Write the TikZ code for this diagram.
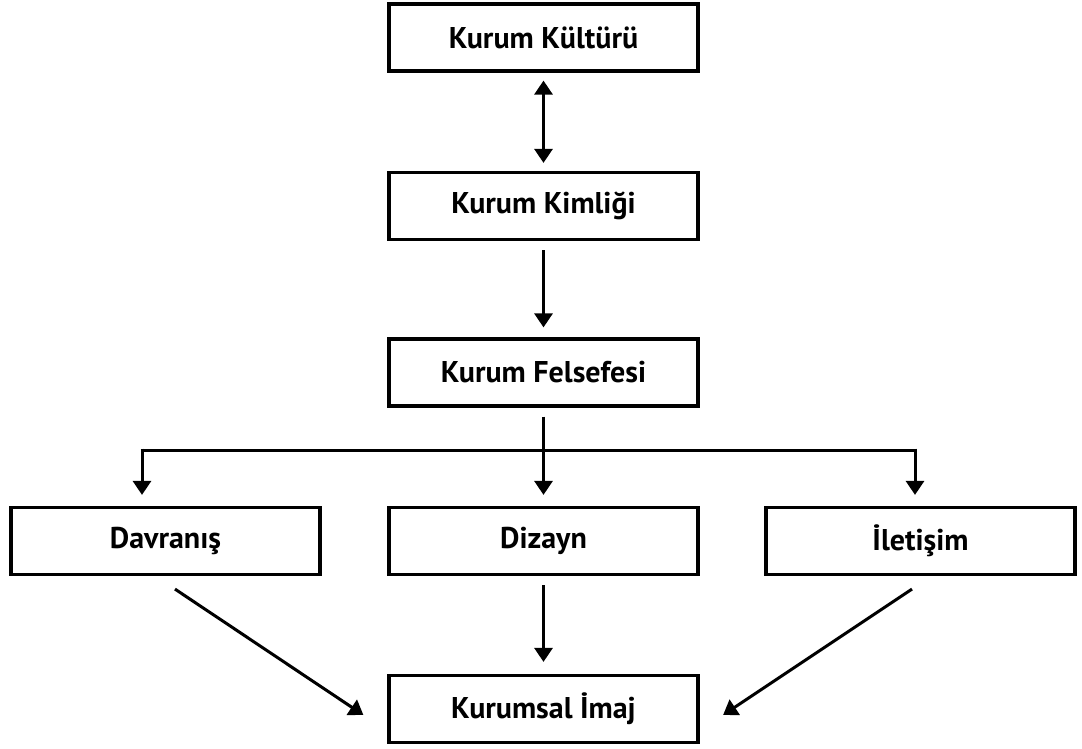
\documentclass[tikz,border=0pt]{standalone}
\usepackage{fontspec}
\setmainfont{PT Sans}
\usetikzlibrary{arrows.meta}
\begin{document}
\begin{tikzpicture}[x=1pt,y=-1pt,
  box/.style={draw=black, line width=3.2pt, fill=white, minimum width=309pt, minimum height=67pt, inner sep=0pt, font=\fontsize{30}{34}\selectfont\bfseries},
  arr/.style={line width=3pt, -{Triangle[length=14pt,width=18pt]}},
  darr/.style={line width=3pt, {Triangle[length=14pt,width=18pt]}-{Triangle[length=14pt,width=18pt]}},
  ln/.style={line width=3pt}]
\useasboundingbox (0,0) rectangle (1082,749);
\node[box] (kk) at (543.5,37.5) {Kurum Kültürü};
\node[box] (km) at (543.5,206) {Kurum Kimliği};
\node[box] (kf) at (543.5,372.5) {Kurum Felsefesi};
\node[box] (dav) at (165.5,541) {Davranış};
\node[box] (diz) at (543.5,541) {Dizayn};
\node[box] (ilt) at (920.5,541) {İletişim};
\node[box] (ki) at (543.5,709) {Kurumsal İmaj};
\coordinate (bj) at (543.5,450);
\coordinate (bl) at (142,450);
\coordinate (br) at (915,450);
\draw[darr, shorten <=8pt, shorten >=8pt] (kk) -- (km);
\draw[arr, shorten <=9pt, shorten >=10pt] (km) -- (kf);
\draw[ln, shorten <=9pt] (kf.south) -- (bj);
\draw[ln, line cap=butt] ([xshift=-1.5pt]bl) -- ([xshift=1.5pt]br);
\draw[arr, shorten >=11pt] ([yshift=1.5pt]bl) -- (bl |- dav.north);
\draw[arr, shorten >=11pt] (bj) -- (diz);
\draw[arr, shorten >=11pt] ([yshift=1.5pt]br) -- (br |- ilt.north);
\draw[arr, shorten <=9pt, shorten >=12pt] (diz) -- (ki);
\draw[arr] ([xshift=9.5pt,yshift=-13pt]dav.south) -- ([xshift=-24pt,yshift=-6pt]ki.west);
\draw[arr] ([xshift=-8.5pt,yshift=-13pt]ilt.south) -- ([xshift=23.5pt,yshift=-6pt]ki.east);
\end{tikzpicture}
\end{document}
